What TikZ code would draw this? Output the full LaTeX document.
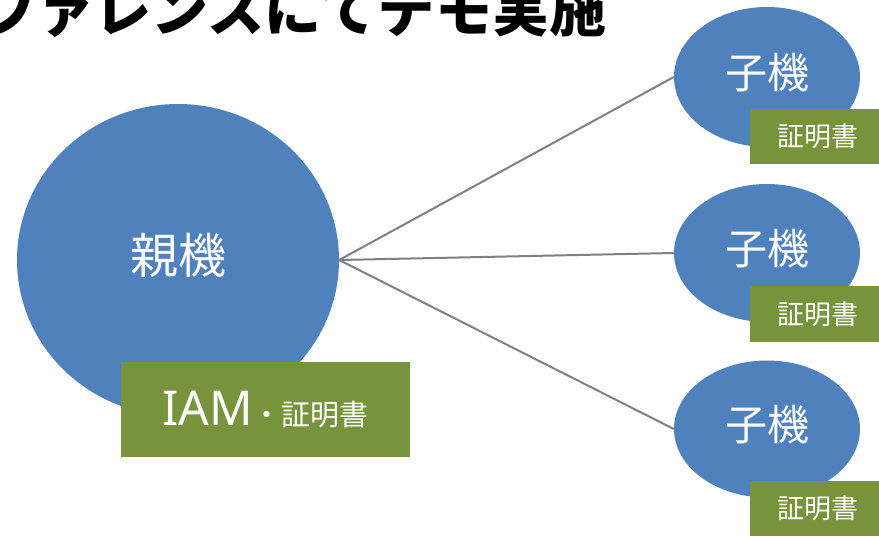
\documentclass[tikz,border=0pt]{standalone}
\usepackage{fontspec}
\setmainfont{Noto Sans CJK JP}
\newfontfamily\latinfont{Noto Sans}
\usetikzlibrary{shapes.geometric}
\definecolor{unitblue}{HTML}{4F81BD}
\definecolor{certgreen}{HTML}{77933C}
\definecolor{linkgray}{HTML}{808080}

\begin{document}
\begin{tikzpicture}[x=1pt,y=-1pt,
  unit/.style={ellipse, fill=unitblue, inner sep=0pt, text=white},
  parent/.style={unit, minimum width=322pt, minimum height=312pt, font=\fontsize{48}{48}\selectfont, text height=42pt, text depth=16pt},
  child/.style={unit, minimum width=186pt, minimum height=138pt, font=\fontsize{42}{42}\selectfont, text height=37pt, text depth=15pt},
  cert/.style={rectangle, fill=certgreen, inner sep=0pt, text=white, anchor=north west},
  link/.style={draw=linkgray, line width=2pt}]
\useasboundingbox (0,0) rectangle (879,536);
\clip (0,0) rectangle (879,536);
\node[anchor=base east, inner sep=0pt, font=\bfseries\fontsize{57}{57}\selectfont] (title) at (607,31) {ファレンスにてデモ実施};
\node[parent] (0) at (178,260) {親機};
\node[child, minimum height=140pt] (1) at (767,77) {子機};
\node[child] (2) at (767,253) {子機};
\node[child, minimum height=137pt] (3) at (767,429) {子機};
\path[draw,link] (0.east) -- (1.west);
\path[draw,link] (0.east) -- (2.west);
\path[draw,link] (0.east) -- (3.west);
\node[cert, minimum width=289pt, minimum height=95pt] (c0) at (121,362) {{\latinfont\fontsize{48}{48}\selectfont IAM}{\fontsize{29}{29}\selectfont ・証明書}};
\node[cert, minimum width=136pt, minimum height=55pt, font=\fontsize{27}{27}\selectfont] (c1) at (750,109) {証明書};
\node[cert, minimum width=136pt, minimum height=56pt, font=\fontsize{27}{27}\selectfont] (c2) at (750,286) {証明書};
\node[cert, minimum width=136pt, minimum height=55pt, font=\fontsize{27}{27}\selectfont] (c3) at (750,481) {証明書};
\end{tikzpicture}
\end{document}
